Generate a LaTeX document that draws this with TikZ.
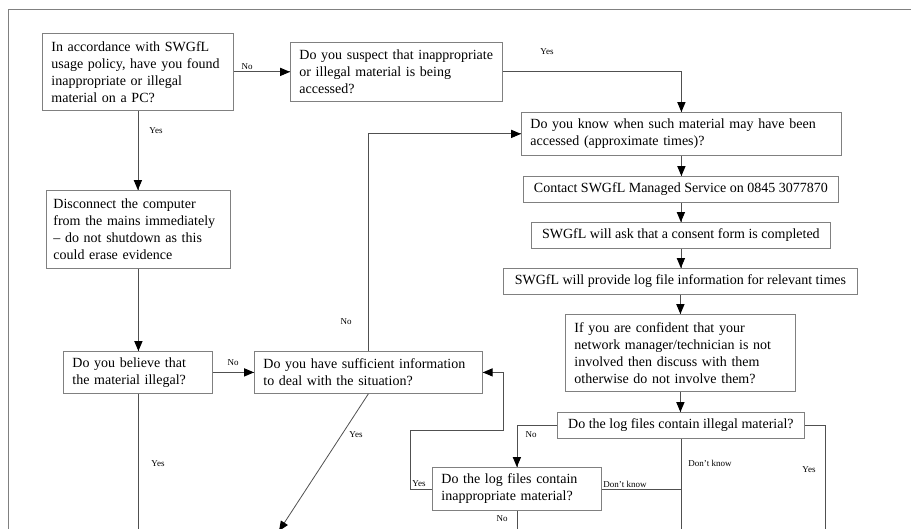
\documentclass[tikz,border=0pt]{standalone}
\usepackage{fontspec}
\setmainfont{Liberation Serif}
\usetikzlibrary{arrows,decorations.markings}
\definecolor{edgegray}{HTML}{505050}
\definecolor{boxgray}{HTML}{808080}
\tikzset{
    box/.style={draw=boxgray, line width=0.8pt, anchor=north west, align=left,
        inner xsep=9pt, inner ysep=3pt, font=\fontsize{14}{17}\selectfont},
    onebox/.style={box, align=center},
    flow/.style={draw=edgegray, line width=0.8pt,
        decoration={markings,mark=at position 1 with {\arrow[black,scale=1.25,>=triangle 45]{>}}},postaction={decorate}},
    wire/.style={draw=edgegray, line width=0.8pt},
    tag/.style={font=\fontsize{9}{10}\selectfont, inner sep=0pt}
}
\begin{document}
\begin{tikzpicture}[x=1pt,y=-1pt]
			\useasboundingbox (0,0) rectangle (911,529);
			\draw[boxgray, line width=0.8pt] (8,529) -- (8,9) -- (911,9);

			\node[box, text width=173pt, minimum height=77pt] (found) at (42,33) {In accordance with SWGfL\\usage policy, have you found\\inappropriate or illegal\\material on a PC?};
			\node[box, text width=194pt, minimum height=59pt] (suspect) at (290,42) {Do you suspect that inappropriate\\or illegal material is being\\accessed?};
			\node[box, text width=302pt, minimum height=43pt] (when) at (521,112) {Do you know when such material may have been\\accessed (approximate times)?};
			\node[onebox, minimum width=315pt, minimum height=26pt] (contact) at (523,176) {Contact SWGfL Managed Service on 0845 3077870};
			\node[onebox, minimum width=299pt, minimum height=26pt] (consent) at (531,222) {SWGfL will ask that a consent form is completed};
			\node[onebox, minimum width=354pt, minimum height=26pt] (logs) at (503,268) {SWGfL will provide log file information for relevant times};
			\node[box, text width=212pt, minimum height=77pt] (confident) at (565,314) {If you are confident that your\\network manager/technician is not\\involved then discuss with them\\otherwise do not involve them?};
			\node[onebox, minimum width=247pt, minimum height=26pt] (illegal) at (557,412) {Do the log files contain illegal material?};
			\node[box, text width=151pt, minimum height=43pt] (inapp) at (432,467) {Do the log files contain\\inappropriate material?};
			\node[box, inner xsep=7pt, text width=170pt, minimum height=78pt] (disconnect) at (46,190) {Disconnect the computer\\from the mains immediately\\– do not shutdown as this\\could erase evidence};
			\node[box, text width=131pt, minimum height=42pt] (believe) at (63,351) {Do you believe that\\the material illegal?};
			\node[box, text width=210pt, minimum height=42pt] (enough) at (254,351) {Do you have sufficient information\\to deal with the situation?};

			% free ends and bends
			\coordinate (bottom) at (0,529);
			\coordinate (diagend) at (279,531);
			\coordinate (yesdrop) at (825,529);
			\coordinate (loopa) at (410,430);
			\coordinate (loopb) at (503,430);

			\draw[flow] (found.east) -- (suspect.west);
			\draw[flow] (suspect.east) -| (when.north);
			\draw[flow] (found.south) -- (found.south |- disconnect.north);
			\draw[flow] (disconnect.south) -- (disconnect.south |- believe.north);
			\draw[flow] (believe.east) -- (believe.east -| enough.west);
			\draw[wire] (believe.south) -- (believe.south |- bottom);
			\draw[flow] (enough.north) |- (when.west);
			\draw[flow] (enough.south) -- (diagend);

			\draw[flow] (when.south) -- (when.south |- contact.north);
			\draw[flow] (contact.south) -- (contact.south |- consent.north);
			\draw[flow] (consent.south) -- (consent.south |- logs.north);
			\draw[flow] (logs.south) -- (logs.south |- confident.north);
			\draw[flow] (confident.south) -- (confident.south |- illegal.north);

			\draw[flow] (illegal.west) -| (inapp.north);
			\draw[wire] (illegal.east) -| (yesdrop);
			\draw[wire] (illegal.south) -- (illegal.south |- bottom);
			\draw[wire] (inapp.east) -- (inapp.east -| illegal.south);
			\draw[wire] (inapp.south) -- (inapp.south |- bottom);
			\draw[flow] (inapp.west) -| (loopa) -- (loopb) |- (enough.east);

			% answers
			\node[tag] (tfoundno) at (247,67) {No};
			\node[tag] (tfoundyes) at (156,131) {Yes};
			\node[tag] (tsuspectyes) at (547,52) {Yes};
			\node[tag] (tbelieveno) at (233,363) {No};
			\node[tag] (tbelieveyes) at (158,464) {Yes};
			\node[tag] (tenoughno) at (346,322) {No};
			\node[tag] (tenoughyes) at (356,435) {Yes};
			\node[tag] (tillegalno) at (531,435) {No};
			\node[tag] (tillegaldk) at (710,463) {Don’t know};
			\node[tag] (tillegalyes) at (809,470) {Yes};
			\node[tag] (tinappdk) at (625,484) {Don’t know};
			\node[tag] (tinappyes) at (419,484) {Yes};
			\node[tag] (tinappno) at (502,519) {No};

		\end{tikzpicture}
\end{document}
